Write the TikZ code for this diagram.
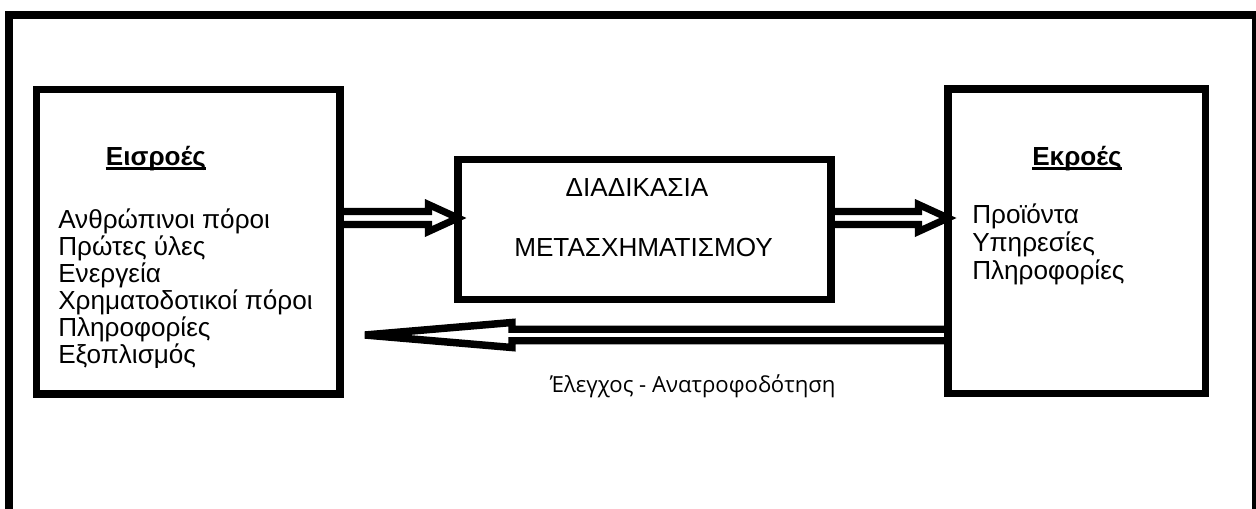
\documentclass[tikz,border=0pt]{standalone}
\usepackage{fontspec}
\setmainfont{Liberation Sans}
\newfontfamily\captionfont{Open Sans}
\usetikzlibrary{calc}
\begin{document}
\begin{tikzpicture}[x=0.75pt,y=-0.75pt,
  frame/.style={draw, line width=6pt},
  box/.style={draw, line width=5.5pt, inner sep=0pt, outer sep=0pt, rectangle},
  hollow/.style={draw, line width=5.3pt, line join=miter},
  txt/.style={inner sep=0pt, anchor=base west, font=\fontsize{19.6}{22}\selectfont},
  ctxt/.style={txt, anchor=base},
  head/.style={ctxt, font=\fontsize{19.6}{22}\selectfont\bfseries},
  note/.style={inner sep=0pt, anchor=base, font=\captionfont\fontsize{16.6}{19}\selectfont},
  uline/.style={line width=1.6pt}]
\useasboundingbox (0,0) rectangle (1256,508);
\clip (0,0) rectangle (1256,508);

% outer frame (its lower edge runs off the page)
\draw[frame] (9,15) rectangle (1256,540);

% the three blocks
\node[box, minimum width=227.6pt, minimum height=228.4pt] (inbox) at (188.25,241.75) {};
\node[box, minimum width=279.75pt, minimum height=105pt] (proc) at (644.5,229.5) {};
\node[box, minimum width=193.1pt, minimum height=228.4pt] (outbox) at (1076.75,241.25) {};

% rows of the hollow arrows
\coordinate (rowA) at (0,218);
\coordinate (rowB) at (0,335);

% inputs -> process
\coordinate (a1s) at (inbox.east |- rowA);
\coordinate (a1t) at (proc.west |- rowA);
\draw[hollow] ($(a1s)+(0,-6.5)$) -- ($(a1t)+(-29.5,-6.5)$) -- ($(a1t)+(-29.5,-13.5)$)
  -- (a1t) -- ($(a1t)+(-29.5,13.5)$) -- ($(a1t)+(-29.5,6.5)$) -- ($(a1s)+(0,6.5)$);

% process -> outputs
\coordinate (a2s) at (proc.east |- rowA);
\coordinate (a2t) at (outbox.west |- rowA);
\draw[hollow] ($(a2s)+(0,-6.5)$) -- ($(a2t)+(-29.5,-6.5)$) -- ($(a2t)+(-29.5,-13.5)$)
  -- (a2t) -- ($(a2t)+(-29.5,13.5)$) -- ($(a2t)+(-29.5,6.5)$) -- ($(a2s)+(0,6.5)$);

% feedback: outputs -> inputs
\coordinate (a3s) at (outbox.west |- rowB);
\coordinate (a3t) at ($(inbox.east |- rowB)+(25,0)$);
\draw[hollow, line width=5.6pt] ($(a3s)+(0,-5.75)$) -- ($(a3t)+(147,-5.75)$) -- ($(a3t)+(147,-12.5)$)
  -- (a3t) -- ($(a3t)+(147,12.5)$) -- ($(a3t)+(147,5.75)$) -- ($(a3s)+(0,5.75)$);

% inputs
\node[head] (hin) at (156,165) {Εισροές};
\draw[uline] ($(hin.base west)+(0,3.5)$) -- ($(hin.base east)+(0,3.5)$);
\node[txt] (in1) at (58,228) {Ανθρώπινοι πόροι};
\node[txt] (in2) at (58,255) {Πρώτες ύλες};
\node[txt] (in3) at (58,282) {Ενεργεία};
\node[txt] (in4) at (58,309) {Χρηματοδοτικοί πόροι};
\node[txt] (in5) at (58,336) {Πληροφορίες};
\node[txt] (in6) at (58,363) {Εξοπλισμός};

% process
\node[ctxt] (p1) at (637,196) {ΔΙΑΔΙΚΑΣΙΑ};
\node[ctxt] (p2) at (643.5,256) {ΜΕΤΑΣΧΗΜΑΤΙΣΜΟΥ};

% outputs
\node[head] (hout) at (1077,165) {Εκροές};
\draw[uline] ($(hout.base west)+(0,3.5)$) -- ($(hout.base east)+(0,3.5)$);
\node[txt] (out1) at (972,223) {Προϊόντα};
\node[txt] (out2) at (972,251) {Υπηρεσίες};
\node[txt] (out3) at (972,279) {Πληροφορίες};

% feedback label
\node[note] (fb) at (693,392) {Έλεγχος - Ανατροφοδότηση};
\end{tikzpicture}
\end{document}
